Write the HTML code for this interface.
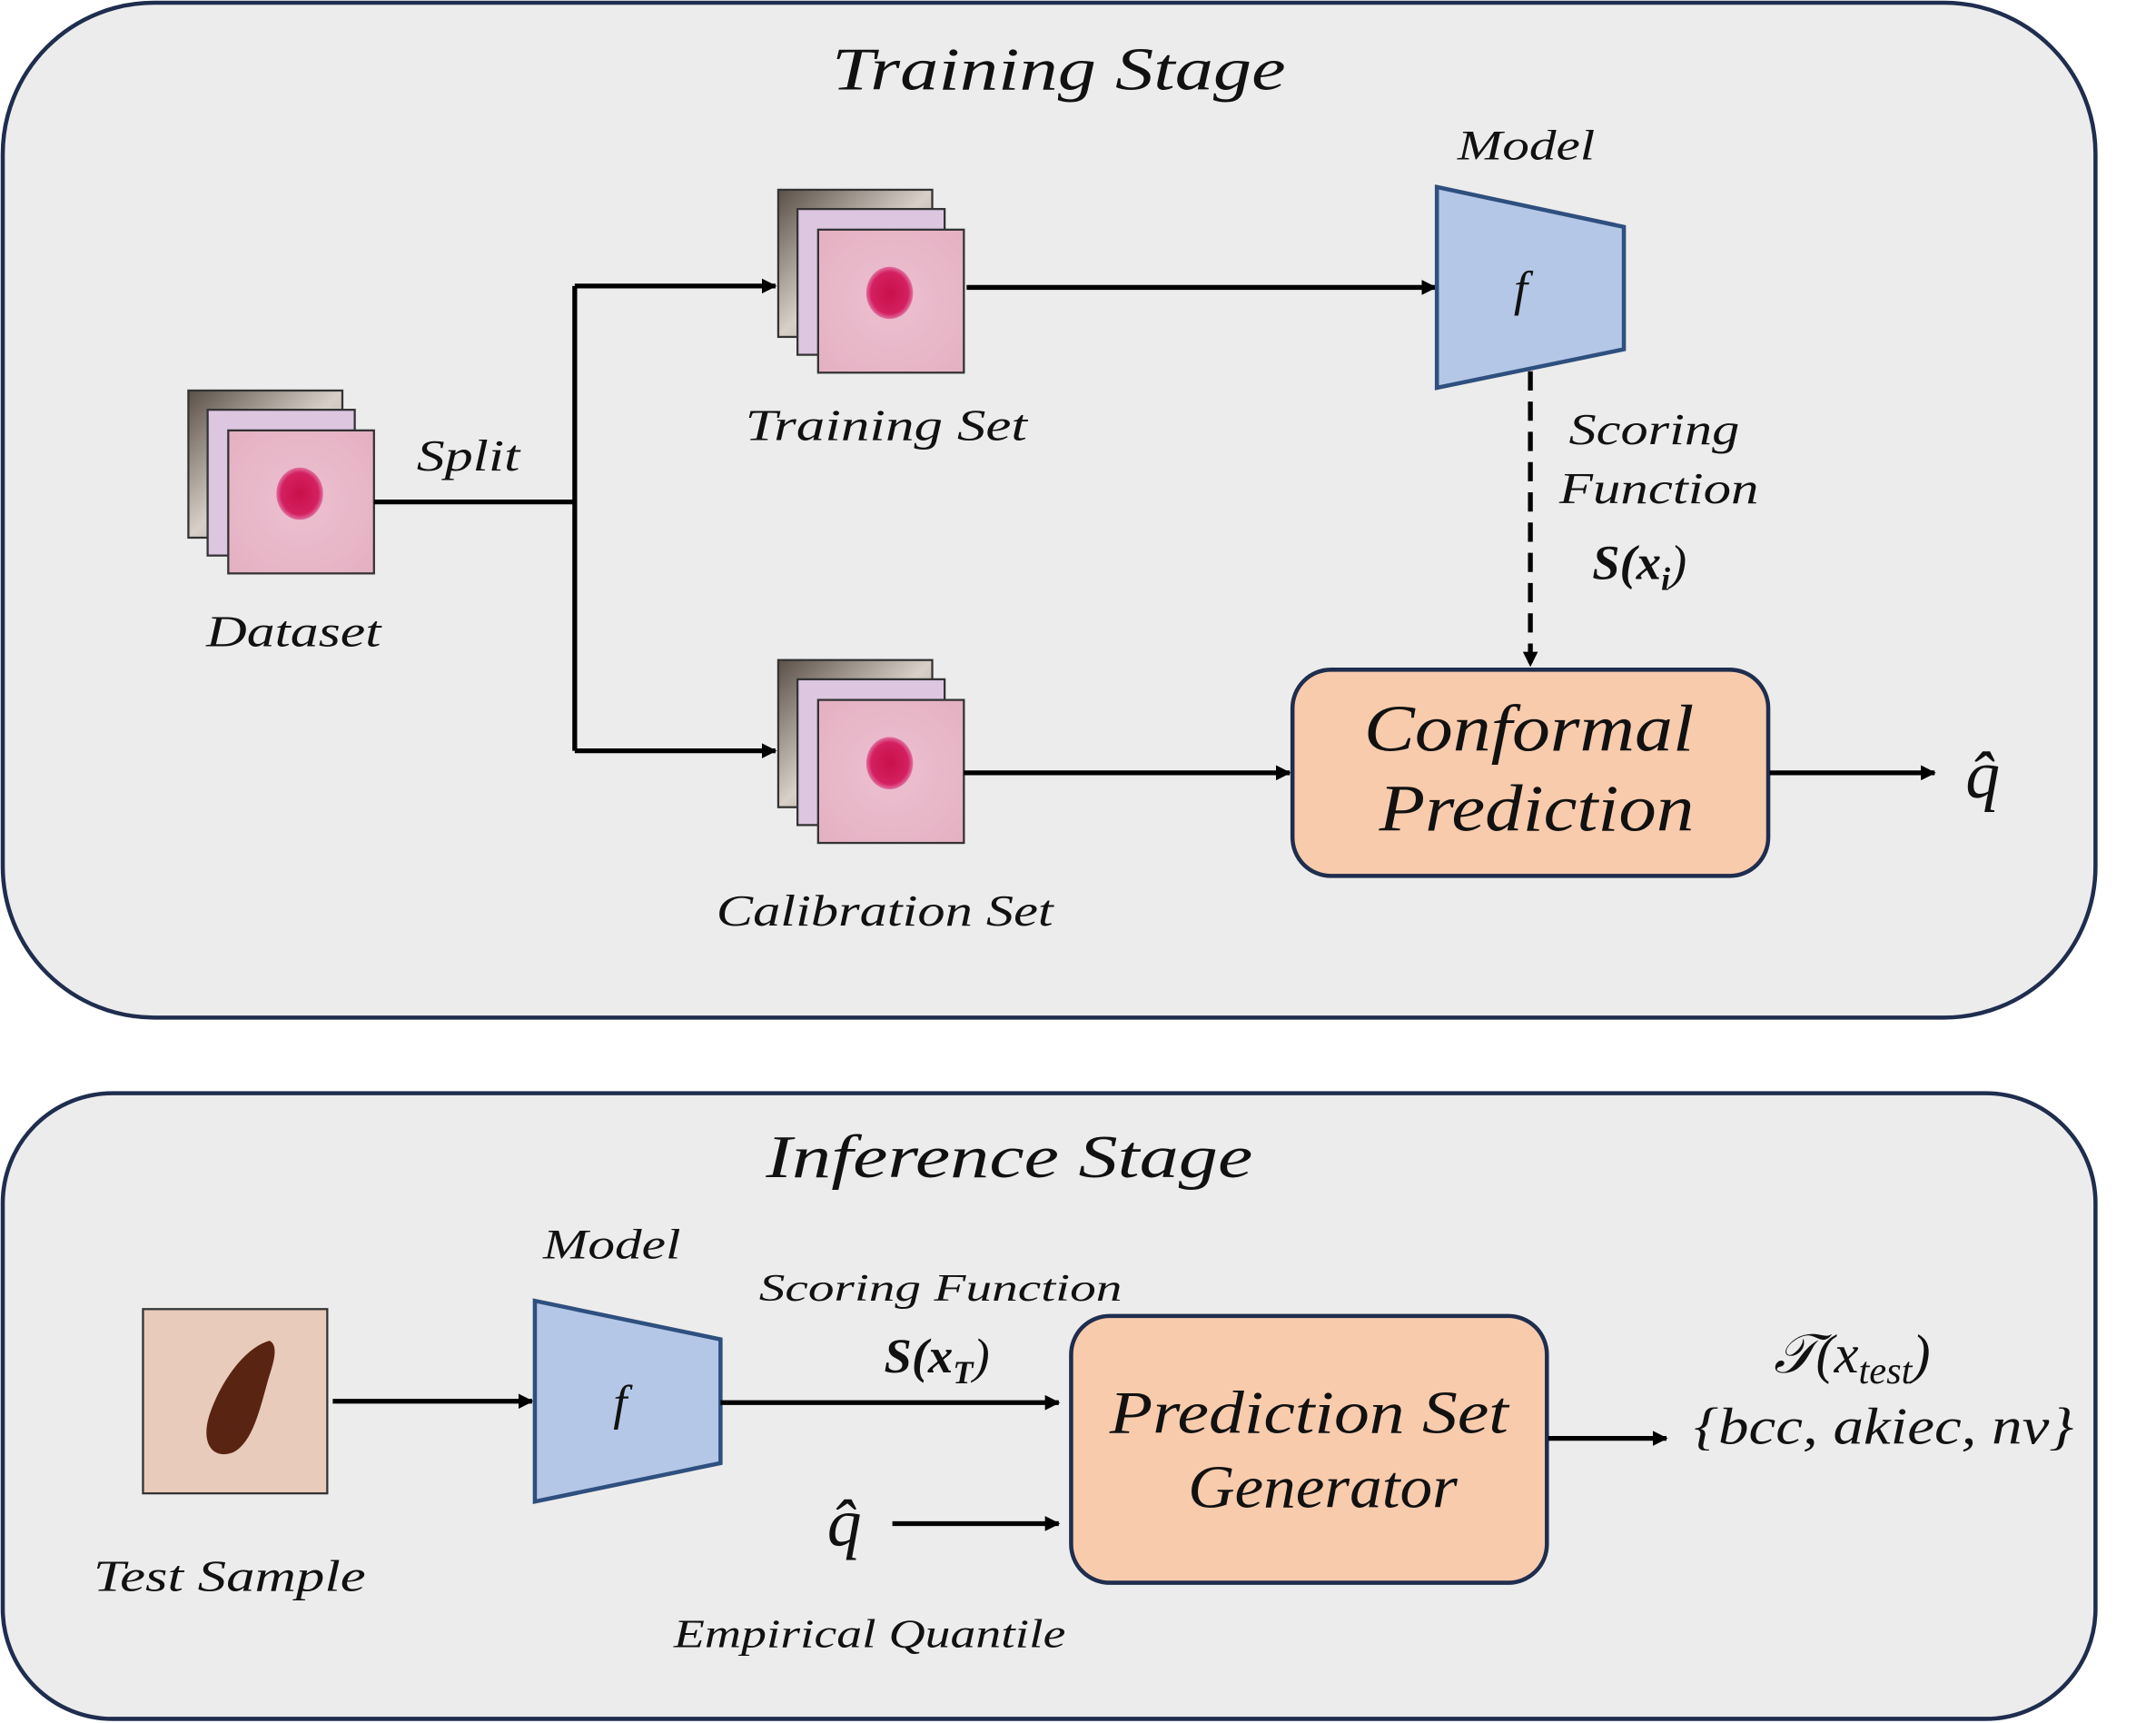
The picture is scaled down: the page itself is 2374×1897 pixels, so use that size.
<!DOCTYPE html>
<html><head><meta charset="utf-8"><style>
html,body{margin:0;padding:0;background:#fff;}
svg{display:block}
text{font-family:"Liberation Serif","DejaVu Serif",serif;font-style:italic;fill:#111;}
</style></head><body>
<svg width="2374" height="1897" viewBox="0 0 1568 1253" preserveAspectRatio="none" xmlns="http://www.w3.org/2000/svg">
<defs>
<marker id="ah" markerWidth="11" markerHeight="11" refX="10" refY="5.5" orient="auto" markerUnits="userSpaceOnUse"><path d="M0,0 L11,5.5 L0,11 z" fill="#000"/></marker>
<linearGradient id="bk" x1="0" y1="0" x2="1" y2="1"><stop offset="0" stop-color="#5a5048"/><stop offset="0.5" stop-color="#d8d0c8"/><stop offset="1" stop-color="#8a8078"/></linearGradient>
<radialGradient id="skin" cx="0.5" cy="0.5" r="0.7"><stop offset="0" stop-color="#ecc0d0"/><stop offset="1" stop-color="#e4b0c2"/></radialGradient>
<radialGradient id="mole" cx="0.5" cy="0.5" r="0.5"><stop offset="0" stop-color="#c8104a"/><stop offset="0.8" stop-color="#d42060"/><stop offset="1" stop-color="#e070a0"/></radialGradient>
<g id="stack">
<rect x="0" y="0" width="112" height="107" fill="url(#bk)" stroke="#333" stroke-width="1.5"/>
<rect x="14" y="14" width="107" height="106" fill="#dcc6e0" stroke="#333" stroke-width="1.5"/>
<rect x="29" y="29" width="106" height="104" fill="url(#skin)" stroke="#333" stroke-width="1.5"/>
<ellipse cx="81" cy="75" rx="17" ry="19" fill="url(#mole)"/>
</g>
</defs>
<rect x="2" y="2" width="1522" height="738" rx="110" fill="#ececec" stroke="#1f2d4e" stroke-width="3"/>
<rect x="2" y="795" width="1522" height="455" rx="80" fill="#ececec" stroke="#1f2d4e" stroke-width="3"/>

<text x="605" y="65" font-size="44" textLength="330" lengthAdjust="spacingAndGlyphs">Training Stage</text>

<use href="#stack" x="137" y="284"/>
<text x="150" y="470" font-size="32" textLength="127" lengthAdjust="spacingAndGlyphs">Dataset</text>
<text x="303" y="342" font-size="32" textLength="75" lengthAdjust="spacingAndGlyphs">Split</text>
<path d="M272,365 H418 M418,208 V546" stroke="#000" stroke-width="3.5" fill="none"/>
<path d="M418,208 H564" stroke="#000" stroke-width="3.5" marker-end="url(#ah)"/>
<path d="M418,546 H564" stroke="#000" stroke-width="3.5" marker-end="url(#ah)"/>

<use href="#stack" x="566" y="138"/>
<text x="542" y="320" font-size="32" textLength="205" lengthAdjust="spacingAndGlyphs">Training Set</text>
<use href="#stack" x="566" y="480"/>
<text x="521" y="673" font-size="32" textLength="245" lengthAdjust="spacingAndGlyphs">Calibration Set</text>

<path d="M703,209 H1044" stroke="#000" stroke-width="3.5" marker-end="url(#ah)"/>
<polygon points="1045,136 1181,165 1181,254 1045,282" fill="#b4c7e7" stroke="#2f4f7f" stroke-width="3"/>
<text x="1106" y="222" font-size="36" text-anchor="middle">f</text>
<text x="1060" y="116" font-size="31" textLength="100" lengthAdjust="spacingAndGlyphs">Model</text>
<path d="M1113,270 V484" stroke="#000" stroke-width="3.5" stroke-dasharray="14,8" marker-end="url(#ah)"/>
<text x="1141" y="323" font-size="32" textLength="124" lengthAdjust="spacingAndGlyphs">Scoring</text>
<text x="1134" y="366" font-size="32" textLength="145" lengthAdjust="spacingAndGlyphs">Function</text>
<text x="1158" y="421" font-size="36" font-weight="bold">S(x<tspan font-size="24" dy="8">i</tspan><tspan dy="-8" font-weight="normal">)</tspan></text>

<path d="M701,562 H938" stroke="#000" stroke-width="3.5" marker-end="url(#ah)"/>
<rect x="940" y="487" width="346" height="150" rx="28" fill="#f8cbad" stroke="#1f2d4e" stroke-width="3"/>
<text x="992" y="546" font-size="48" textLength="240" lengthAdjust="spacingAndGlyphs">Conformal</text>
<text x="1003" y="604" font-size="48" textLength="229" lengthAdjust="spacingAndGlyphs">Prediction</text>
<path d="M1287,562 H1407" stroke="#000" stroke-width="3.5" marker-end="url(#ah)"/>
<text x="1442" y="580" font-size="50" text-anchor="middle">q̂</text>

<text x="557" y="856" font-size="44" textLength="354" lengthAdjust="spacingAndGlyphs">Inference Stage</text>
<rect x="104" y="952" width="134" height="134" fill="#e8cbbb" stroke="#333" stroke-width="1.5"/>
<path d="M196,975 C178,980 160,1005 152,1030 C146,1050 155,1062 170,1056 C185,1048 190,1020 196,1000 C200,988 202,978 196,975 z" fill="#5a2412"/>
<text x="68" y="1157" font-size="32" textLength="198" lengthAdjust="spacingAndGlyphs">Test Sample</text>
<path d="M242,1019 H387" stroke="#000" stroke-width="3.5" marker-end="url(#ah)"/>
<polygon points="389,946 524,974 524,1064 389,1092" fill="#b4c7e7" stroke="#2f4f7f" stroke-width="3"/>
<text x="451" y="1032" font-size="36" text-anchor="middle">f</text>
<text x="395" y="915" font-size="31" textLength="100" lengthAdjust="spacingAndGlyphs">Model</text>
<text x="552" y="946" font-size="28" textLength="264" lengthAdjust="spacingAndGlyphs">Scoring  Function</text>
<text x="643" y="998" font-size="36" font-weight="bold">S(x<tspan font-size="24" dy="8">T</tspan><tspan dy="-8" font-weight="normal">)</tspan></text>
<path d="M524,1020 H770" stroke="#000" stroke-width="3.5" marker-end="url(#ah)"/>
<text x="614" y="1124" font-size="50" text-anchor="middle">q̂</text>
<path d="M649,1108 H770" stroke="#000" stroke-width="3.5" marker-end="url(#ah)"/>
<text x="490" y="1198" font-size="29" textLength="285" lengthAdjust="spacingAndGlyphs">Empirical Quantile</text>
<rect x="779" y="957" width="346" height="194" rx="28" fill="#f8cbad" stroke="#1f2d4e" stroke-width="3"/>
<text x="807" y="1042" font-size="44" textLength="290" lengthAdjust="spacingAndGlyphs">Prediction Set</text>
<text x="864" y="1096" font-size="44" textLength="196" lengthAdjust="spacingAndGlyphs">Generator</text>
<path d="M1126,1046 H1212" stroke="#000" stroke-width="3.5" marker-end="url(#ah)"/>
<text x="1290" y="998" font-size="40">𝒯(x<tspan font-size="28" dy="8">test</tspan><tspan dy="-8">)</tspan></text>
<text x="1232" y="1050" font-size="38" textLength="276" lengthAdjust="spacingAndGlyphs">{bcc, akiec, nv}</text>
</svg>
</body></html>
